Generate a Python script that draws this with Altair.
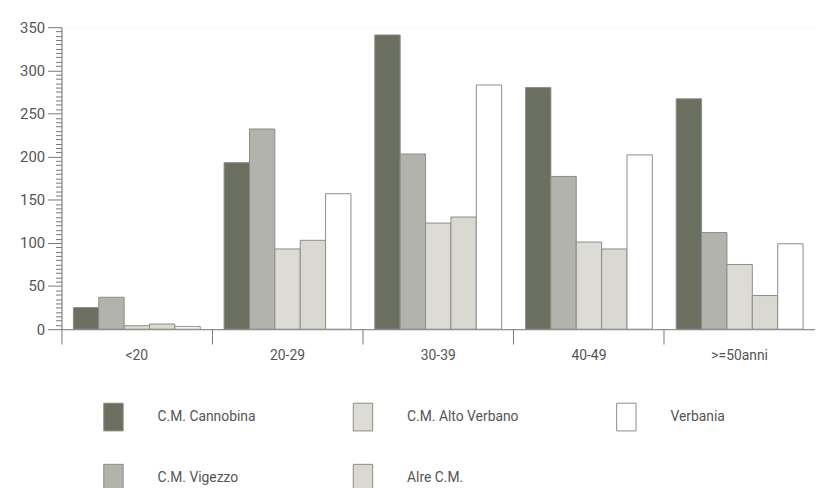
import altair as alt
import pandas as pd

categories = ["<20", "20-29", "30-39", "40-49", ">=50anni"]
series = ["C.M. Cannobina", "C.M. Vigezzo", "C.M. Alto Verbano", "Alre C.M.", "Verbania"]
cannobina = [25, 193, 341, 280, 267]
vigezzo = [37, 232, 203, 177, 112]
alto_verbano = [4, 93, 123, 101, 75]
altre = [6, 103, 130, 93, 39]
verbania = [3, 157, 283, 202, 99]
colors = ["#6b6f5f", "#b3b3ad", "#dddbd6", "#d9d9d1", "#ffffff"]
y_ticks = list(range(0, 351, 5))

values = [cannobina, vigezzo, alto_verbano, altre, verbania]
rows = []
for s, vals in zip(series, values):
    for c, v in zip(categories, vals):
        rows.append({"age": c, "series": s, "value": v})
df = pd.DataFrame(rows)

FONT = "Roboto"

chart = alt.Chart(df).mark_bar(stroke="#8c8c88", strokeWidth=1).encode(
    x=alt.X(
        "age:N",
        sort=categories,
        scale=alt.Scale(paddingInner=0, paddingOuter=0),
        axis=alt.Axis(
            title=None,
            bandPosition=0,
            tickSize=15,
            tickColor="#777777",
            domainColor="#777777",
            labelAngle=0,
            labelPadding=5,
            labelFontSize=14,
            labelColor="#555555",
            labelFont=FONT,
        ),
    ),
    xOffset=alt.XOffset(
        "series:N",
        sort=series,
        scale=alt.Scale(domain=series, paddingOuter=0.47, paddingInner=0),
    ),
    y=alt.Y(
        "value:Q",
        scale=alt.Scale(domain=[0, 350], nice=False),
        axis=alt.Axis(
            title=None,
            values=y_ticks,
            labelExpr="datum.value % 50 === 0 ? datum.label : ''",
            labelOverlap=False,
            tickSize=alt.condition("datum.value % 50 === 0", alt.value(14), alt.value(6)),
            tickColor="#777777",
            domainColor="#777777",
            labelPadding=3,
            labelFontSize=15,
            labelColor="#555555",
            labelFont=FONT,
            grid=True,
            gridColor="#ffffff",
            gridWidth=1.5,
            gridOpacity=alt.condition("datum.value % 50 === 0", alt.value(0.9), alt.value(0)),
        ),
    ),
    color=alt.Color(
        "series:N",
        scale=alt.Scale(domain=series, range=colors),
        legend=alt.Legend(
            title=None,
            orient="none",
            legendX=38,
            legendY=379,
            columns=3,
            gridAlign="each",
            columnPadding=94,
            rowPadding=29,
            padding=0,
            values=series,
            symbolType="M-0.7,-1H0.7V1H-0.7Z",
            symbolSize=784,
            symbolStrokeColor="#8c8c88",
            symbolStrokeWidth=1,
            symbolOpacity=1,
            labelOffset=30,
            labelFontSize=14,
            labelColor="#555555",
            labelFont=FONT,
        ),
    ),
).properties(
    width=761,
    height=305,
    autosize=alt.AutoSizeParams(type="none"),
    padding={"left": 54, "top": 17, "right": 0, "bottom": 158},
).configure_view(
    fill="#f5f2ef",
    strokeWidth=0,
).configure(
    background="#ffffff",
    font=FONT,
)

chart.save("out.html", embed_options={"renderer": "svg", "actions": False})
